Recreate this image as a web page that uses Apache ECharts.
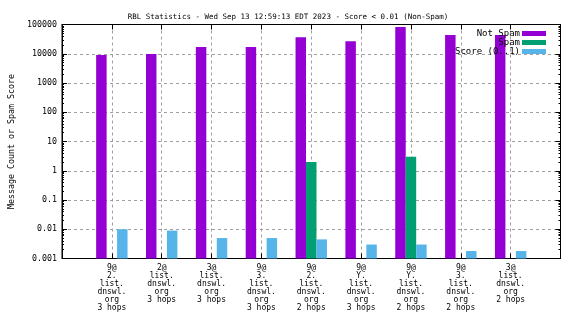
<!DOCTYPE html>
<html><head><meta charset="utf-8">
<script src="https://cdn.jsdelivr.net/npm/echarts@6/dist/echarts.min.js"></script>
<style>html,body{margin:0;padding:0;background:#fff}#c{width:576px;height:324px}</style>
</head><body><div id="c"></div>
<script>
const titleText = 'RBL Statistics - Wed Sep 13 12:59:13 EDT 2023 - Score < 0.01 (Non-Spam)';
const yAxisTitle = 'Message Count or Spam Score';
const categories = [
  '9@\n2.\nlist.\ndnswl.\norg\n3 hops',
  '2@\nlist.\ndnswl.\norg\n3 hops',
  '3@\nlist.\ndnswl.\norg\n3 hops',
  '9@\n3.\nlist.\ndnswl.\norg\n3 hops',
  '9@\n2.\nlist.\ndnswl.\norg\n2 hops',
  '9@\nY.\nlist.\ndnswl.\norg\n3 hops',
  '9@\nY.\nlist.\ndnswl.\norg\n2 hops',
  '9@\n3.\nlist.\ndnswl.\norg\n2 hops',
  '3@\nlist.\ndnswl.\norg\n2 hops'
];
const seriesNames = ['Not Spam', 'Spam', 'Score (0..1)'];
const notSpam = [9000, 9800, 17000, 17000, 37000, 27000, 82000, 44000, 44000];
const spam = [null, null, null, null, 2.0, null, 3.0, null, null];
const score = [0.01, 0.009, 0.005, 0.005, 0.0045, 0.003, 0.003, 0.0018, 0.0018];
const yTickLabels = ['0.001', '0.01', '0.1', '1', '10', '100', '1000', '10000', '100000'];
const colors = ['#9400D3', '#009E73', '#56B4E9'];

const FONT = 'DejaVu Sans Mono';
const Y_MIN = 0.001, Y_MAX = 100000;
const xCats = [''].concat(categories, ['']);
const toData = arr => arr.map((v, i) => [i + 1, v]).filter(d => d[1] != null);

function barRenderer(slot) {
  return function (params, api) {
    const x = api.value(0), v = api.value(1);
    const top = api.coord([x, v]);
    const bot = api.coord([x, Y_MIN]);
    const band = api.size([1, 1])[0];
    const bw = band * 0.21;
    const left = top[0] + (slot - 1) * bw - bw / 2;
    return {
      type: 'rect',
      shape: {x: left, y: top[1], width: bw, height: bot[1] - top[1]},
      style: {fill: colors[slot]}
    };
  };
}

const chart = echarts.init(document.getElementById('c'), null, {renderer: 'canvas'});
const dashed = {show: true, lineStyle: {color: '#a0a0a0', type: [3, 3], width: 1}};
const yBase = {
  type: 'log', logBase: 10, min: Y_MIN, max: Y_MAX,
  axisLine: {show: true, lineStyle: {color: '#000', width: 1}},
  axisTick: {show: true, inside: true, length: 5, lineStyle: {color: '#000'}},
  minorTick: {show: true, splitNumber: 9, length: 2, lineStyle: {color: '#000'}}
};
chart.setOption({
  animation: false,
  backgroundColor: '#fff',
  title: {
    text: titleText, left: 'center', top: 8,
    textStyle: {fontFamily: FONT, fontSize: 7.5, fontWeight: 'normal', color: '#000'}
  },
  legend: {
    orient: 'vertical', right: 25, top: 24, align: 'right',
    itemWidth: 24, itemHeight: 5, itemGap: 0,
    icon: 'rect',
    textStyle: {fontFamily: FONT, fontSize: 9, lineHeight: 7.7, color: '#000', padding: [0, -3, 0, 0]},
    data: seriesNames.map((n, i) => ({name: n, itemStyle: {color: colors[i]}}))
  },
  grid: {left: 55.5, right: 15.5, top: 24.5, bottom: 65.5, show: true, borderColor: '#000', borderWidth: 1},
  xAxis: [{
    type: 'category', data: xCats, boundaryGap: false,
    axisLine: {show: true, lineStyle: {color: '#000'}},
    axisTick: {show: true, inside: true, length: 5, lineStyle: {color: '#000'}},
    axisLabel: {interval: 0, fontFamily: FONT, fontSize: 8, lineHeight: 8, color: '#000', margin: 5, align: 'center'},
    splitLine: dashed
  }, {
    type: 'category', data: xCats, boundaryGap: false, position: 'top',
    axisLine: {show: true, lineStyle: {color: '#000'}},
    axisTick: {show: true, inside: true, length: 5, lineStyle: {color: '#000'}},
    axisLabel: {show: false}, splitLine: {show: false}
  }],
  yAxis: [Object.assign({}, yBase, {
    name: yAxisTitle, nameLocation: 'middle', nameGap: 46, nameRotate: 90,
    nameTextStyle: {fontFamily: FONT, fontSize: 8.3, color: '#000'},
    axisLabel: {fontFamily: FONT, fontSize: 8.3, color: '#000', margin: 5,
      formatter: v => yTickLabels[Math.round(Math.log10(v)) + 3]},
    splitLine: dashed
  }), Object.assign({}, yBase, {
    position: 'right', axisLabel: {show: false}, splitLine: {show: false}
  })],
  series: [notSpam, spam, score].map((arr, k) => ({
    name: seriesNames[k], type: 'custom', xAxisIndex: 0, yAxisIndex: 0,
    encode: {x: 0, y: 1},
    itemStyle: {color: colors[k]},
    renderItem: barRenderer(k),
    data: toData(arr)
  }))
});
</script></body></html>
